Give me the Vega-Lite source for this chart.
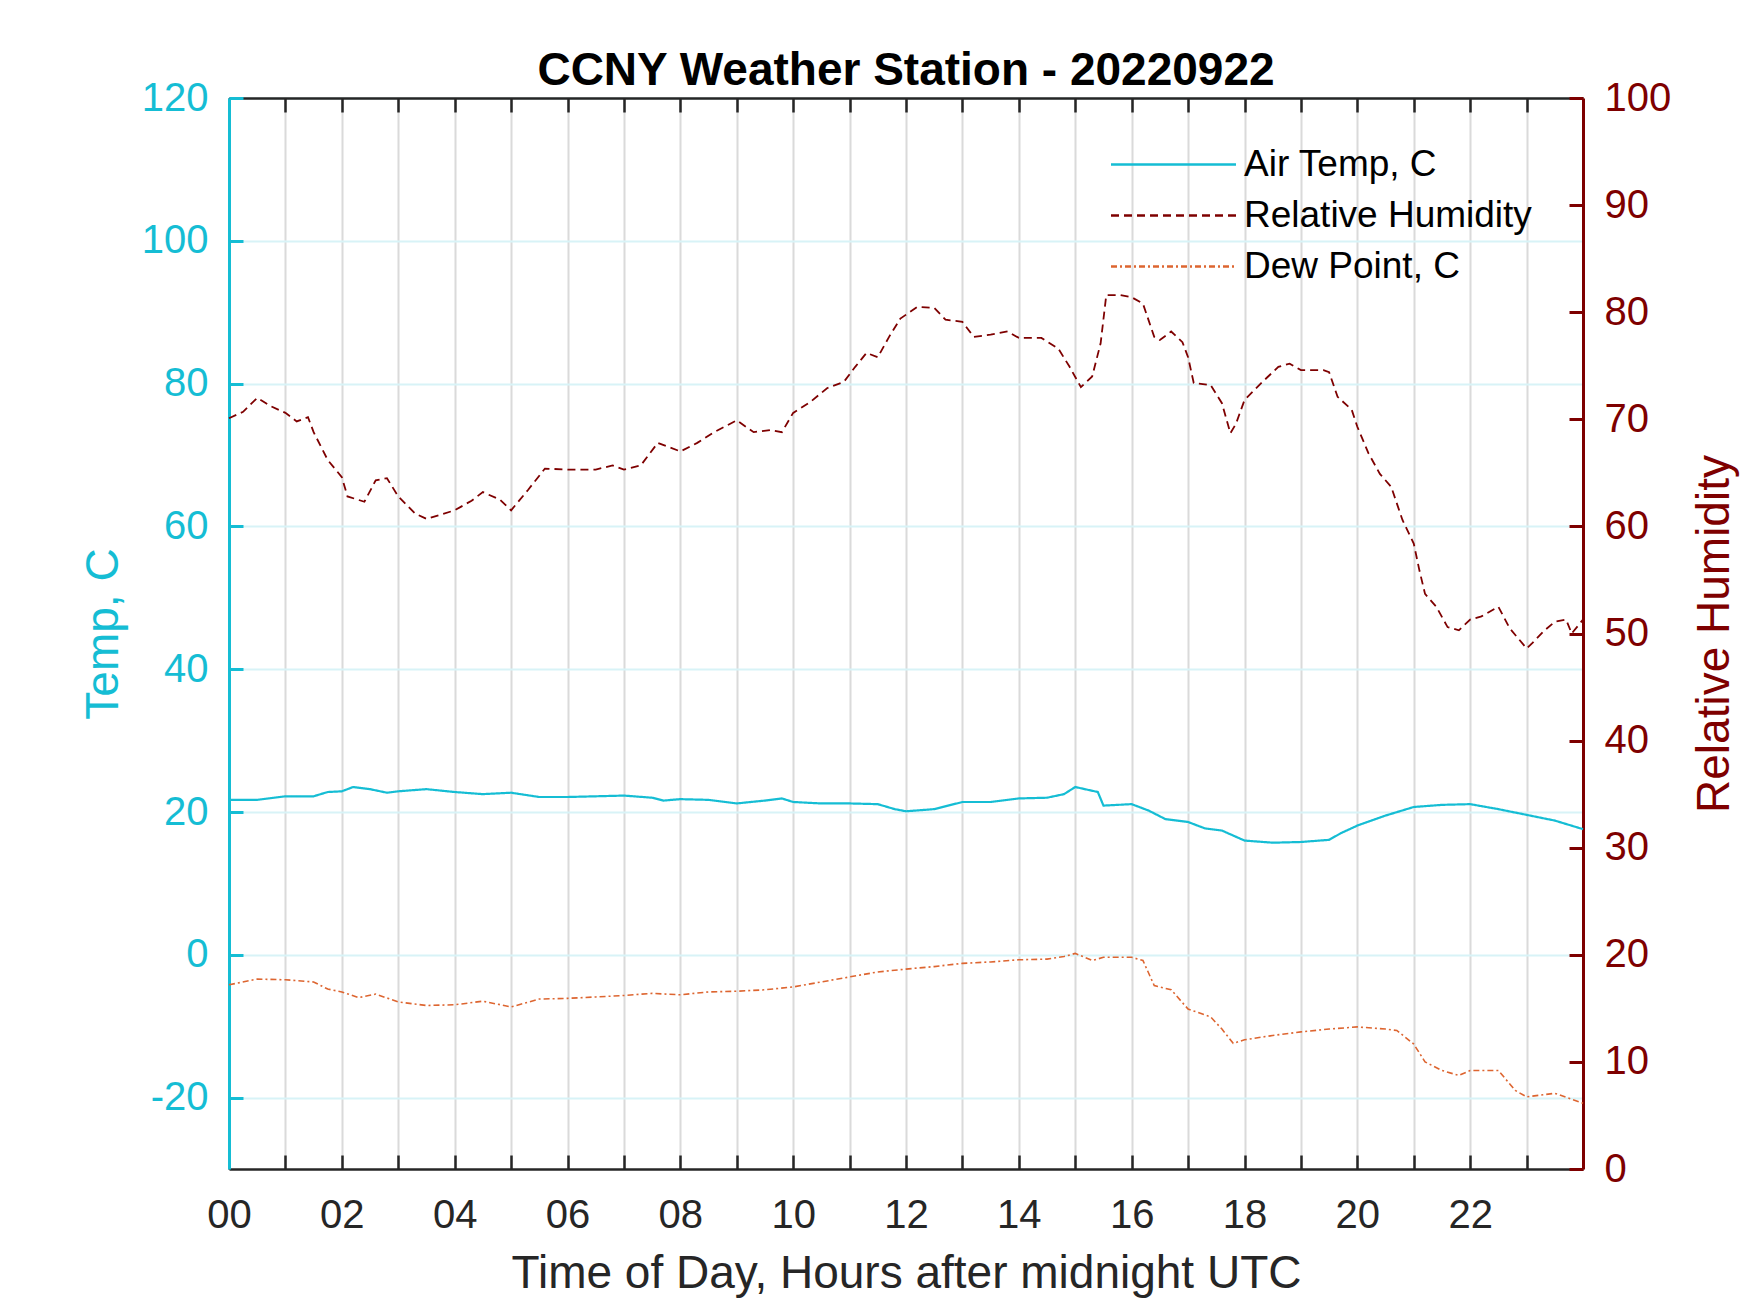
{
  "$schema": "https://vega.github.io/schema/vega-lite/v6.json",
  "autosize": "none",
  "width": 1354,
  "height": 1071,
  "padding": {"left": 229, "top": 98, "right": 167, "bottom": 144},
  "background": "white",
  "title": {
    "text": "CCNY Weather Station - 20220922",
    "fontSize": 46,
    "fontWeight": "bold",
    "color": "black",
    "anchor": "middle",
    "offset": -17
  },
  "datasets": {
    "temp": [
      {"hour": 0, "value": 21.7}, {"hour": 0.5, "value": 21.7}, {"hour": 1, "value": 22.2},
      {"hour": 1.5, "value": 22.2}, {"hour": 1.75, "value": 22.8}, {"hour": 2, "value": 22.9},
      {"hour": 2.2, "value": 23.5}, {"hour": 2.5, "value": 23.2}, {"hour": 2.8, "value": 22.7},
      {"hour": 3, "value": 22.9}, {"hour": 3.5, "value": 23.2}, {"hour": 4, "value": 22.8},
      {"hour": 4.5, "value": 22.5}, {"hour": 5, "value": 22.7}, {"hour": 5.5, "value": 22.1},
      {"hour": 6, "value": 22.1}, {"hour": 7, "value": 22.3}, {"hour": 7.5, "value": 22.0},
      {"hour": 7.7, "value": 21.6}, {"hour": 8, "value": 21.8}, {"hour": 8.5, "value": 21.7},
      {"hour": 9, "value": 21.2}, {"hour": 9.5, "value": 21.6}, {"hour": 9.8, "value": 21.9},
      {"hour": 10, "value": 21.4}, {"hour": 10.5, "value": 21.2}, {"hour": 11, "value": 21.2},
      {"hour": 11.5, "value": 21.1}, {"hour": 11.8, "value": 20.4}, {"hour": 12, "value": 20.1},
      {"hour": 12.5, "value": 20.4}, {"hour": 13, "value": 21.4}, {"hour": 13.5, "value": 21.4},
      {"hour": 14, "value": 21.9}, {"hour": 14.5, "value": 22.0}, {"hour": 14.8, "value": 22.5},
      {"hour": 15, "value": 23.5}, {"hour": 15.4, "value": 22.8}, {"hour": 15.5, "value": 20.9},
      {"hour": 16, "value": 21.1}, {"hour": 16.3, "value": 20.2}, {"hour": 16.6, "value": 19.0},
      {"hour": 17, "value": 18.6}, {"hour": 17.3, "value": 17.7}, {"hour": 17.6, "value": 17.4},
      {"hour": 17.8, "value": 16.7}, {"hour": 18, "value": 16.0}, {"hour": 18.5, "value": 15.7},
      {"hour": 19, "value": 15.8}, {"hour": 19.5, "value": 16.1}, {"hour": 19.7, "value": 17.0},
      {"hour": 20, "value": 18.1}, {"hour": 20.5, "value": 19.5}, {"hour": 21, "value": 20.7},
      {"hour": 21.5, "value": 21.0}, {"hour": 22, "value": 21.1}, {"hour": 22.5, "value": 20.4},
      {"hour": 23, "value": 19.6}, {"hour": 23.5, "value": 18.8}, {"hour": 24, "value": 17.6}
    ],
    "dew": [
      {"hour": 0, "value": -4.2}, {"hour": 0.5, "value": -3.4}, {"hour": 1, "value": -3.5},
      {"hour": 1.5, "value": -3.8}, {"hour": 1.75, "value": -4.8}, {"hour": 2, "value": -5.2},
      {"hour": 2.3, "value": -6.0}, {"hour": 2.6, "value": -5.5}, {"hour": 3, "value": -6.6},
      {"hour": 3.5, "value": -7.1}, {"hour": 4, "value": -7.0}, {"hour": 4.5, "value": -6.5},
      {"hour": 5, "value": -7.3}, {"hour": 5.5, "value": -6.2}, {"hour": 6, "value": -6.1},
      {"hour": 6.5, "value": -5.9}, {"hour": 7, "value": -5.7}, {"hour": 7.5, "value": -5.4},
      {"hour": 8, "value": -5.6}, {"hour": 8.5, "value": -5.2}, {"hour": 9, "value": -5.1},
      {"hour": 9.5, "value": -4.9}, {"hour": 10, "value": -4.5}, {"hour": 10.5, "value": -3.8},
      {"hour": 11, "value": -3.1}, {"hour": 11.5, "value": -2.4}, {"hour": 12, "value": -2.0},
      {"hour": 12.5, "value": -1.65}, {"hour": 13, "value": -1.2}, {"hour": 13.5, "value": -1.0},
      {"hour": 14, "value": -0.7}, {"hour": 14.5, "value": -0.6}, {"hour": 14.8, "value": -0.25},
      {"hour": 15, "value": 0.2}, {"hour": 15.3, "value": -0.8}, {"hour": 15.5, "value": -0.35},
      {"hour": 16, "value": -0.35}, {"hour": 16.2, "value": -0.8}, {"hour": 16.4, "value": -4.3},
      {"hour": 16.7, "value": -4.9}, {"hour": 17, "value": -7.6}, {"hour": 17.4, "value": -8.7},
      {"hour": 17.6, "value": -10.4}, {"hour": 17.8, "value": -12.4}, {"hour": 18, "value": -11.9},
      {"hour": 18.5, "value": -11.3}, {"hour": 19, "value": -10.8}, {"hour": 19.5, "value": -10.4},
      {"hour": 20, "value": -10.1}, {"hour": 20.5, "value": -10.4}, {"hour": 20.7, "value": -10.6},
      {"hour": 21, "value": -12.5}, {"hour": 21.2, "value": -15.0}, {"hour": 21.5, "value": -16.2},
      {"hour": 21.8, "value": -16.9}, {"hour": 22, "value": -16.2}, {"hour": 22.5, "value": -16.2},
      {"hour": 22.8, "value": -19.0}, {"hour": 23, "value": -19.9}, {"hour": 23.5, "value": -19.4},
      {"hour": 24, "value": -20.8}
    ],
    "rh": [
      {"hour": 0, "value": 70.1}, {"hour": 0.25, "value": 70.7}, {"hour": 0.5, "value": 72.0},
      {"hour": 0.75, "value": 71.2}, {"hour": 1, "value": 70.6}, {"hour": 1.2, "value": 69.8},
      {"hour": 1.4, "value": 70.2}, {"hour": 1.5, "value": 68.8}, {"hour": 1.75, "value": 66.2},
      {"hour": 2, "value": 64.6}, {"hour": 2.1, "value": 62.8}, {"hour": 2.4, "value": 62.3},
      {"hour": 2.6, "value": 64.3}, {"hour": 2.8, "value": 64.5}, {"hour": 3, "value": 62.8},
      {"hour": 3.3, "value": 61.2}, {"hour": 3.5, "value": 60.7}, {"hour": 4, "value": 61.5},
      {"hour": 4.3, "value": 62.4}, {"hour": 4.5, "value": 63.2}, {"hour": 4.8, "value": 62.5},
      {"hour": 5, "value": 61.5}, {"hour": 5.3, "value": 63.4}, {"hour": 5.6, "value": 65.4},
      {"hour": 6, "value": 65.3}, {"hour": 6.5, "value": 65.3}, {"hour": 6.8, "value": 65.7},
      {"hour": 7, "value": 65.3}, {"hour": 7.3, "value": 65.7}, {"hour": 7.6, "value": 67.8},
      {"hour": 8, "value": 67.0}, {"hour": 8.3, "value": 67.8}, {"hour": 8.6, "value": 68.8},
      {"hour": 9, "value": 69.9}, {"hour": 9.3, "value": 68.8}, {"hour": 9.6, "value": 69.0},
      {"hour": 9.8, "value": 68.8}, {"hour": 10, "value": 70.6}, {"hour": 10.3, "value": 71.6},
      {"hour": 10.6, "value": 72.9}, {"hour": 10.9, "value": 73.5}, {"hour": 11.1, "value": 74.9},
      {"hour": 11.3, "value": 76.2}, {"hour": 11.5, "value": 75.8}, {"hour": 11.7, "value": 77.7},
      {"hour": 11.9, "value": 79.4}, {"hour": 12.2, "value": 80.5}, {"hour": 12.5, "value": 80.4},
      {"hour": 12.7, "value": 79.3}, {"hour": 13, "value": 79.1}, {"hour": 13.2, "value": 77.7},
      {"hour": 13.5, "value": 77.9}, {"hour": 13.8, "value": 78.2}, {"hour": 14, "value": 77.6},
      {"hour": 14.4, "value": 77.6}, {"hour": 14.7, "value": 76.6}, {"hour": 14.9, "value": 74.9},
      {"hour": 15.1, "value": 73.0}, {"hour": 15.3, "value": 74.0}, {"hour": 15.45, "value": 77.1},
      {"hour": 15.55, "value": 81.6}, {"hour": 15.8, "value": 81.6}, {"hour": 16, "value": 81.4},
      {"hour": 16.2, "value": 80.8}, {"hour": 16.4, "value": 77.7}, {"hour": 16.5, "value": 77.4},
      {"hour": 16.7, "value": 78.2}, {"hour": 16.9, "value": 77.2}, {"hour": 17, "value": 75.8},
      {"hour": 17.1, "value": 73.4}, {"hour": 17.4, "value": 73.2}, {"hour": 17.6, "value": 71.5},
      {"hour": 17.75, "value": 68.7}, {"hour": 17.85, "value": 69.6}, {"hour": 18, "value": 71.8},
      {"hour": 18.3, "value": 73.4}, {"hour": 18.6, "value": 74.9}, {"hour": 18.8, "value": 75.2},
      {"hour": 19, "value": 74.6}, {"hour": 19.4, "value": 74.6}, {"hour": 19.5, "value": 74.4},
      {"hour": 19.65, "value": 72.1}, {"hour": 19.9, "value": 70.9}, {"hour": 20, "value": 69.3},
      {"hour": 20.2, "value": 66.8}, {"hour": 20.4, "value": 64.9}, {"hour": 20.6, "value": 63.7},
      {"hour": 20.8, "value": 60.6}, {"hour": 21, "value": 58.4}, {"hour": 21.1, "value": 55.9},
      {"hour": 21.2, "value": 53.7}, {"hour": 21.4, "value": 52.5}, {"hour": 21.6, "value": 50.6},
      {"hour": 21.8, "value": 50.3}, {"hour": 22, "value": 51.3}, {"hour": 22.2, "value": 51.6},
      {"hour": 22.5, "value": 52.5}, {"hour": 22.7, "value": 50.5}, {"hour": 23, "value": 48.6},
      {"hour": 23.1, "value": 49.1}, {"hour": 23.3, "value": 50.2}, {"hour": 23.5, "value": 51.1},
      {"hour": 23.7, "value": 51.3}, {"hour": 23.8, "value": 50.0}, {"hour": 24, "value": 51.3}
    ]
  },
  "layer": [
    {
      "layer": [
        {
          "data": {"name": "temp"},
          "mark": {"type": "line", "strokeWidth": 2.2},
          "encoding": {
            "x": {
              "field": "hour", "type": "quantitative",
              "scale": {"domain": [0, 24], "nice": false, "zero": false},
              "axis": {
                "orient": "bottom",
                "values": [0,1,2,3,4,5,6,7,8,9,10,11,12,13,14,15,16,17,18,19,20,21,22,23],
                "labelExpr": "datum.value % 2 == 0 ? (datum.value < 10 ? '0' + datum.value : '' + datum.value) : ''",
                "labelOverlap": false, "labelFlush": false,
                "title": "Time of Day, Hours after midnight UTC",
                "titleFontSize": 46, "titleFontWeight": "normal", "titleColor": "#262626", "titlePadding": 16,
                "labelFontSize": 40, "labelColor": "#262626", "labelPadding": 40,
                "domainColor": "#262626", "domainWidth": 2.5,
                "tickColor": "#262626", "tickSize": -14, "tickWidth": 2.5,
                "grid": true, "gridColor": "#dadada", "gridWidth": 2
              }
            },
            "y": {
              "field": "value", "type": "quantitative",
              "scale": {"domain": [-30, 120], "nice": false, "zero": false},
              "axis": {
                "orient": "left",
                "values": [-20, 0, 20, 40, 60, 80, 100, 120],
                "labelExpr": "'' + datum.value",
                "title": "Temp, C",
                "titleFontSize": 46, "titleFontWeight": "normal", "titleColor": "#15BDD4", "titlePadding": 14,
                "labelFontSize": 40, "labelColor": "#15BDD4", "labelPadding": 35,
                "domainColor": "#15BDD4", "domainWidth": 3,
                "tickColor": "#15BDD4", "tickSize": -14, "tickWidth": 3,
                "grid": true, "gridColor": "#d8f3f7", "gridWidth": 2
              }
            },
            "color": {
              "datum": "Air Temp, C", "type": "nominal",
              "scale": {"domain": ["Air Temp, C", "Relative Humidity", "Dew Point, C"], "range": ["#15BDD4", "#7E0000", "#DD6530"]},
              "legend": {"orient": "none", "legendX": 926, "legendY": 48, "title": null, "labelFontSize": 37, "labelColor": "black", "labelLimit": 0, "symbolType": "M-5,0H5", "symbolSize": 625, "symbolStrokeWidth": 2.5, "labelOffset": 52, "rowPadding": 13}
            },
            "strokeDash": {
              "datum": "Air Temp, C", "type": "nominal",
              "scale": {"domain": ["Air Temp, C", "Relative Humidity", "Dew Point, C"], "range": [[1, 0], [8, 5], [6, 3, 2, 3]]},
              "legend": {"orient": "none", "legendX": 926, "legendY": 48, "title": null, "labelFontSize": 37, "labelColor": "black", "labelLimit": 0, "symbolType": "M-5,0H5", "symbolSize": 625, "symbolStrokeWidth": 2.5, "labelOffset": 52, "rowPadding": 13}
            }
          }
        },
        {
          "data": {"name": "dew"},
          "mark": {"type": "line", "strokeWidth": 1.6},
          "encoding": {
            "x": {"field": "hour", "type": "quantitative"},
            "y": {"field": "value", "type": "quantitative"},
            "color": {"datum": "Dew Point, C", "type": "nominal"},
            "strokeDash": {"datum": "Dew Point, C", "type": "nominal"}
          }
        }
      ]
    },
    {
      "data": {"name": "rh"},
      "mark": {"type": "line", "strokeWidth": 1.8},
      "encoding": {
        "x": {
          "field": "hour", "type": "quantitative",
          "axis": {
            "orient": "top",
            "values": [0,1,2,3,4,5,6,7,8,9,10,11,12,13,14,15,16,17,18,19,20,21,22,23],
            "labels": false, "title": null,
            "domainColor": "#262626", "domainWidth": 2.5,
            "tickColor": "#262626", "tickSize": -14, "tickWidth": 2.5,
            "grid": false
          }
        },
        "y": {
          "field": "value", "type": "quantitative",
          "scale": {"domain": [0, 100], "nice": false},
          "axis": {
            "orient": "right",
            "values": [0, 10, 20, 30, 40, 50, 60, 70, 80, 90, 100],
            "title": "Relative Humidity", "titleAngle": 270,
            "titleFontSize": 46, "titleFontWeight": "normal", "titleColor": "#7E0000", "titlePadding": 68,
            "labelFontSize": 40, "labelColor": "#7E0000", "labelPadding": 35,
            "domainColor": "#7E0000", "domainWidth": 3,
            "tickColor": "#7E0000", "tickSize": -14, "tickWidth": 3,
            "grid": false
          }
        },
        "color": {"datum": "Relative Humidity", "type": "nominal"},
        "strokeDash": {"datum": "Relative Humidity", "type": "nominal"}
      }
    }
  ],
  "resolve": {
    "scale": {"y": "independent"},
    "axis": {"x": "independent", "y": "independent"}
  },
  "config": {
    "font": "Liberation Sans",
    "view": {"stroke": null}
  }
}
